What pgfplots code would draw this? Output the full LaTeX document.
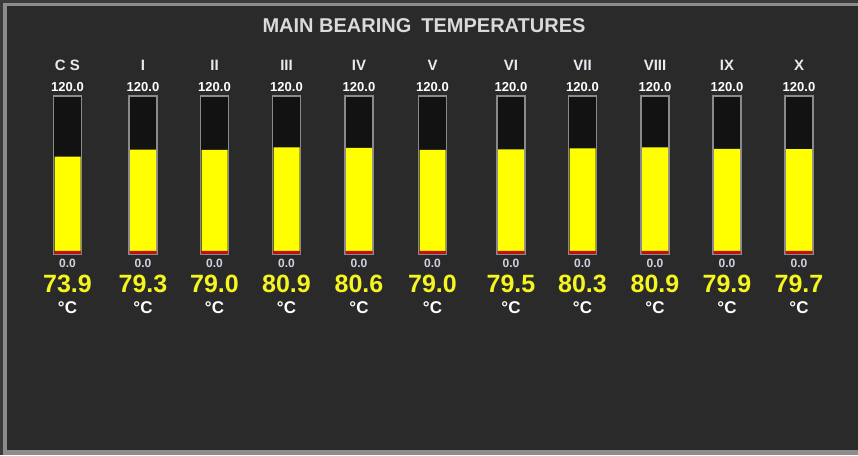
\documentclass[border=0pt]{standalone}
\usepackage{pgfplots}
\pgfplotsset{compat=1.18}
\usepackage{pgfplotstable}
\usepackage{fontspec}
\setmainfont{Liberation Sans}
\definecolor{bgout}{HTML}{3A3A3A}
\definecolor{frame}{HTML}{8C8C8C}
\definecolor{bgin}{HTML}{2A2A2A}
\definecolor{tube}{HTML}{121212}
\definecolor{tubeborder}{HTML}{8A8A8A}
\definecolor{fillyel}{HTML}{FFFF00}
\definecolor{basered}{HTML}{C01010}
\definecolor{titlec}{HTML}{DADADA}
\definecolor{catc}{HTML}{E8EAF0}
\definecolor{zeroc}{HTML}{CDD2DE}
\definecolor{valc}{HTML}{F5F520}
\pgfplotstableread{
x val name
67.5 73.9 {C S}
143 79.3 I
214.5 79.0 II
286.5 80.9 III
359 80.6 IV
432.5 79.0 V
511 79.5 VI
582.5 80.3 VII
655 80.9 VIII
727 79.9 IX
799 79.7 X
}\gauges
\begin{document}
\begin{tikzpicture}[x=1pt,y=1pt]
\fill[frame] (0,0) rectangle (858,455);
\fill[bgout] (0,452) rectangle (858,455);
\fill[bgout] (0,0) rectangle (3,455);
\fill[bgin] (7,5) rectangle (858,449);
\begin{axis}[at={(0pt,201pt)}, anchor=south west, scale only axis,
  width=858pt, height=158pt, xmin=0, xmax=858, ymin=0, ymax=120,
  hide axis, clip=false,
  every node near coord/.append style={anchor=center, inner sep=0pt}]
\addplot[ybar, bar shift=0pt, bar width=28pt, fill=tube, draw=tubeborder, line width=1.2pt]
  table[x=x, y expr=120] {\gauges};
\addplot[ybar, bar shift=0pt, bar width=26pt, fill=fillyel, draw=none]
  table[x=x, y=val] {\gauges};
\addplot[ybar, bar shift=0pt, bar width=27pt, fill=basered, draw=none]
  table[x=x, y expr=2.4] {\gauges};
% category names
\addplot[draw=none, mark=none, nodes near coords, point meta=explicit symbolic,
  nodes near coords style={font=\bfseries\fontsize{15}{15}\selectfont, text=catc, anchor=center}]
  table[x=x, y expr=143.2, meta=name] {\gauges};
% top scale
\addplot[draw=none, mark=none, nodes near coords={120.0},
  nodes near coords style={font=\bfseries\fontsize{13}{13}\selectfont, text=white, anchor=center}]
  table[x=x, y expr=126.5] {\gauges};
% bottom scale
\addplot[draw=none, mark=none, nodes near coords={0.0},
  nodes near coords style={font=\bfseries\fontsize{12}{12}\selectfont, text=zeroc, anchor=center}]
  table[x=x, y expr=-7.2] {\gauges};
% values
\addplot[draw=none, mark=none, nodes near coords, point meta=explicit symbolic,
  nodes near coords style={font=\bfseries\fontsize{25}{25}\selectfont, text=valc, anchor=center}]
  table[x=x, y expr=-22.8, meta=val] {\gauges};
% units
\addplot[draw=none, mark=none, nodes near coords={°C},
  nodes near coords style={font=\bfseries\fontsize{17}{17}\selectfont, text=white, anchor=center}]
  table[x=x, y expr=-41.0] {\gauges};
\end{axis}
\node[font=\bfseries\fontsize{20}{20}\selectfont, text=titlec, inner sep=0pt] at (424,429.5) {MAIN BEARING\hspace{0.5em}TEMPERATURES};
\end{tikzpicture}
\end{document}
